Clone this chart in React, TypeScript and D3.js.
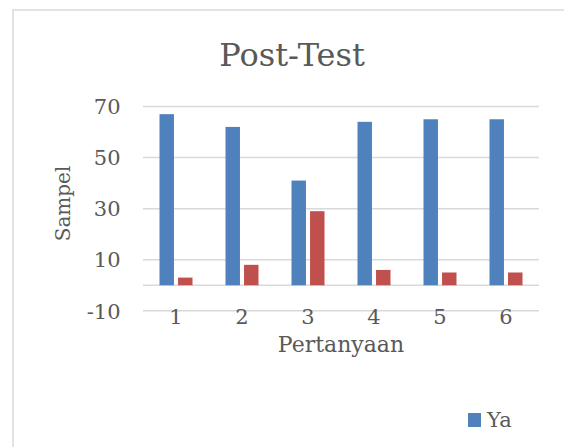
import React from "react";
import * as d3 from "d3";

const categories = ["1", "2", "3", "4", "5", "6"];
const yaValues = [67, 62, 41, 64, 65, 65];
const tidakValues = [3, 8, 29, 6, 5, 5];
const yTicks = [-10, 10, 30, 50, 70];
const seriesNames = ["Ya", "Tidak"];
const colors = ["#4F81BD", "#C0504D"];

const FONT = "'DejaVu Serif', serif";
const TEXT = "#595959";

export default function App() {
  const W = 564, H = 447;
  const x0 = 143, x1 = 539;
  const y = d3.scaleLinear().domain([-10, 70]).range([310.8, 106.5]);
  const x = d3.scaleBand().domain(categories).range([x0, x1]).paddingInner(0.5).paddingOuter(0.25);
  const inner = d3.scaleBand().domain(seriesNames).range([0, x.bandwidth()]).paddingInner(0.22);
  const series = [yaValues, tidakValues];
  return (
    <svg width={W} height={H} style={{ position: "absolute", left: 0, top: 0, background: "#fff" }}>
      <rect x={13} y={10} width={W + 20} height={H + 20} fill="#fff" stroke="#d9d9d9" strokeWidth={1.5} />
      <text x={292} y={66} textAnchor="middle" fontFamily={FONT} fontSize={32} fill={TEXT}>Post-Test</text>
      {yTicks.map((t) => (
        <g key={t}>
          <line x1={x0} x2={x1} y1={y(t)} y2={y(t)} stroke="#d9d9d9" strokeWidth={1.5} />
          <text x={120.5} y={y(t) + 7.7} textAnchor="end" fontFamily={FONT} fontSize={21} fill={TEXT}>{t}</text>
        </g>
      ))}
      <line x1={x0} x2={x1} y1={y(0)} y2={y(0)} stroke="#d9d9d9" strokeWidth={1.5} />
      {series.map((vals, si) =>
        vals.map((v, i) => (
          <rect key={si + "-" + i}
            x={(x(categories[i]) ?? 0) + (inner(seriesNames[si]) ?? 0)}
            y={y(v)} width={inner.bandwidth()} height={y(0) - y(v)}
            fill={colors[si]} />
        ))
      )}
      {categories.map((c) => (
        <text key={c} x={(x(c) ?? 0) + x.bandwidth() / 2} y={324} textAnchor="middle" fontFamily={FONT} fontSize={21} fill={TEXT}>{c}</text>
      ))}
      <text x={341} y={352} textAnchor="middle" fontFamily={FONT} fontSize={22} fill={TEXT}>Pertanyaan</text>
      <text transform="translate(69.5,203.5) rotate(-90)" textAnchor="middle" fontFamily={FONT} fontSize={20} fill={TEXT}>Sampel</text>
      <rect x={468} y={413} width={13} height={14} fill={colors[0]} />
      <text x={487} y={427} fontFamily={FONT} fontSize={21} fill={TEXT}>{seriesNames[0]}</text>
    </svg>
  );
}
